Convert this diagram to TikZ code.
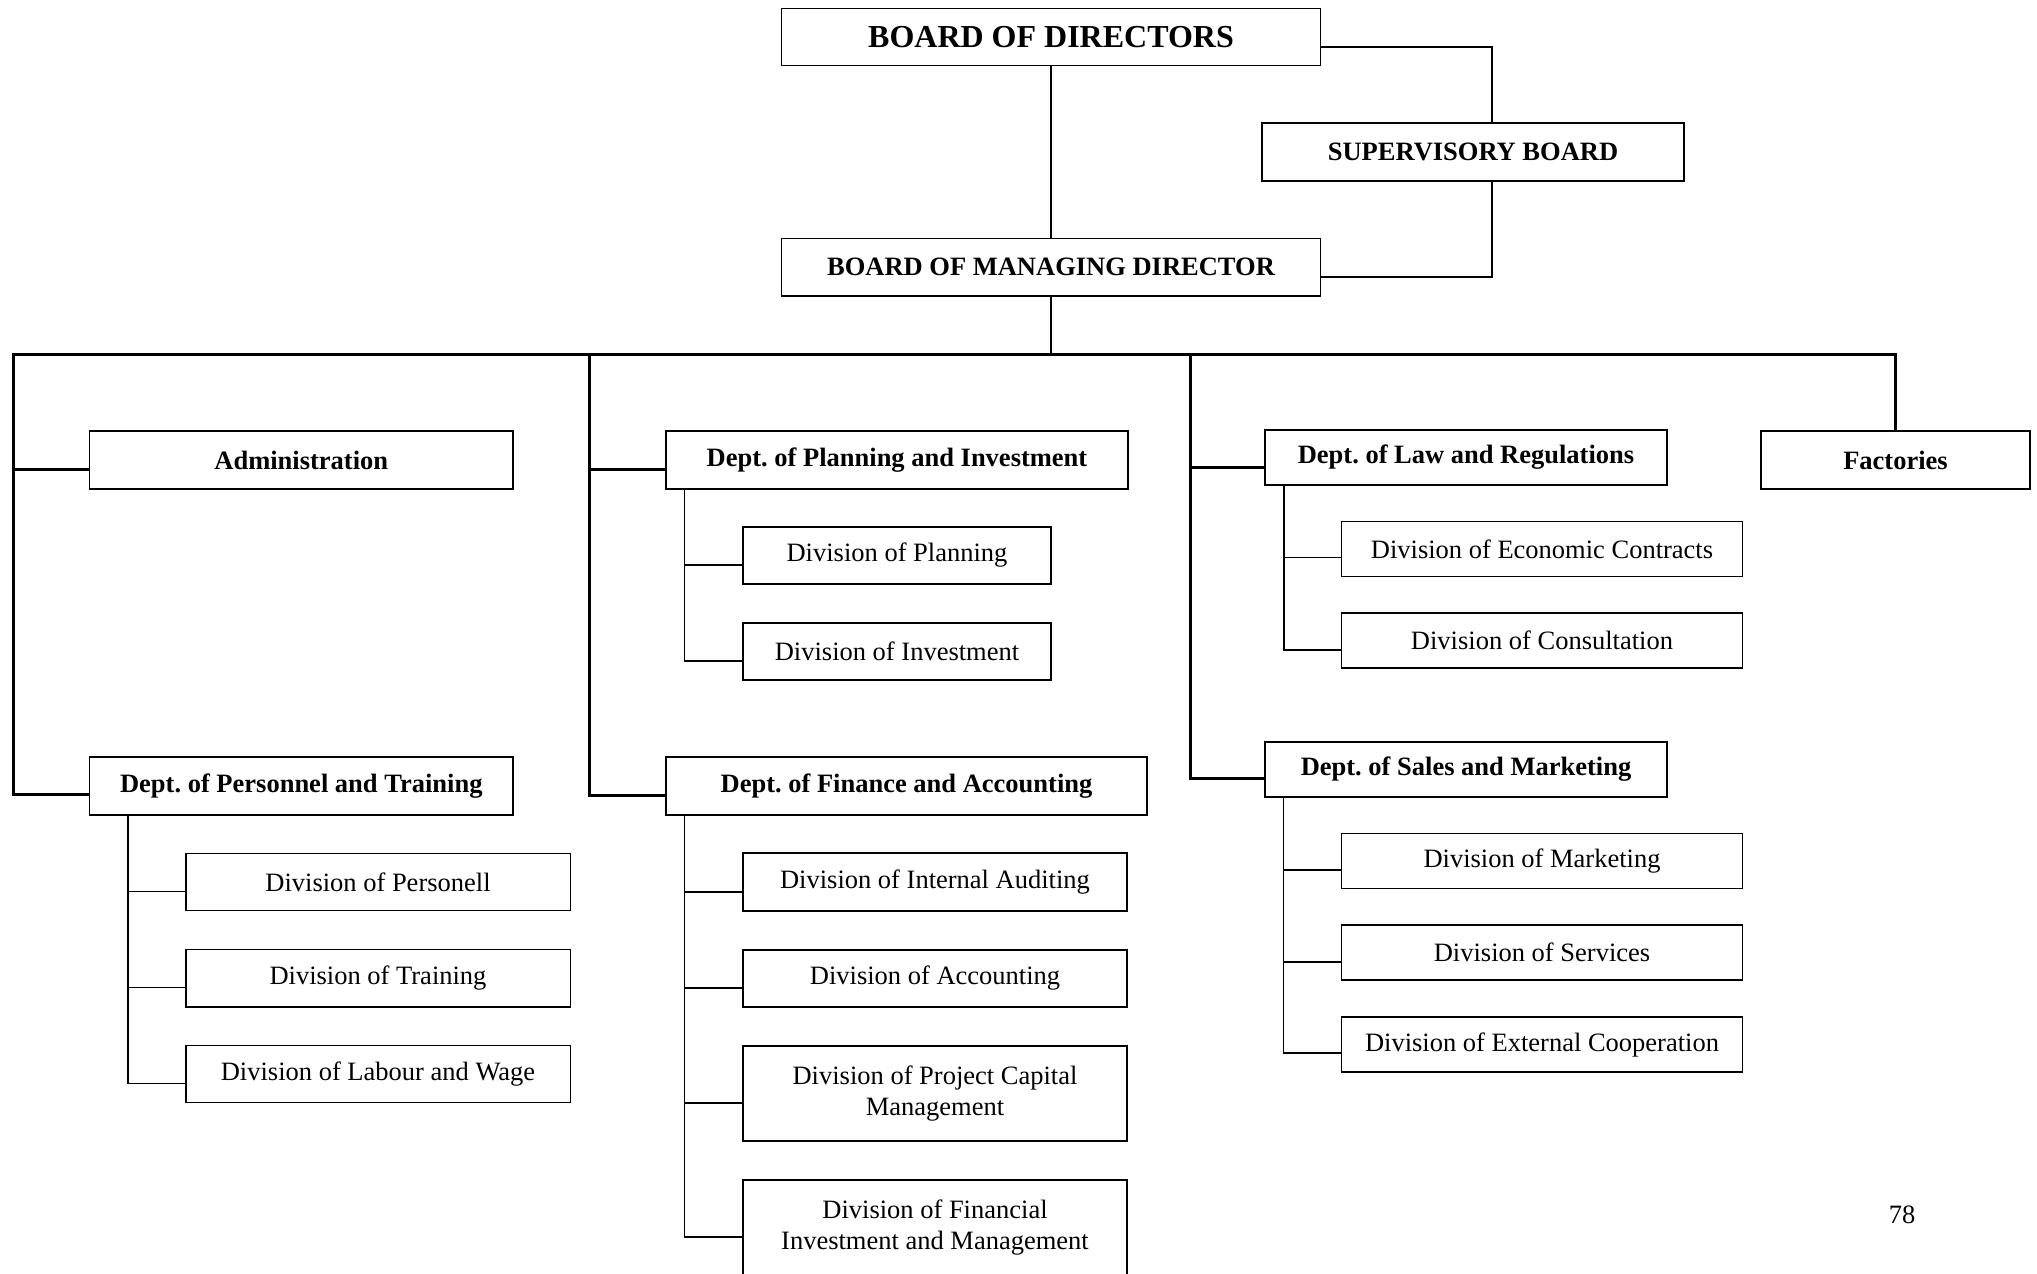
\documentclass[tikz,border=0pt]{standalone}
\usepackage{fontspec}
\setmainfont{Liberation Serif}
\frenchspacing
\begin{document}
\begin{tikzpicture}[x=1pt,y=-1pt,
  box/.style={draw, line width=1.5pt, inner sep=0pt, align=center,
    font=\frenchspacing\fontsize{26.5}{31.8}\selectfont},
  dept/.style={box, font=\frenchspacing\bfseries\fontsize{26.5}{31.8}\selectfont},
  busline/.style={line width=3pt},
  midline/.style={line width=2pt},
  thinline/.style={line width=1.5pt}]
\useasboundingbox (0,0) rectangle (2037,1274);
\clip (0,0) rectangle (2037,1274);
\fill[white] (0,0) rectangle (2037,1274);

% top
\node[dept, font=\bfseries\fontsize{32}{38}\selectfont, minimum width=539pt, minimum height=57.4pt] (bod) at (1051,37) {BOARD OF DIRECTORS};
\node[dept, minimum width=422pt, minimum height=58pt] (sb) at (1473,152) {SUPERVISORY BOARD};
\node[dept, minimum width=539pt, minimum height=57.4pt] (bmd) at (1051,267.3) {BOARD OF MANAGING DIRECTOR};

% departments
\node[dept, minimum width=423.4pt, minimum height=58pt] (admin) at (301.3,460) {Administration};
\node[dept, minimum width=423.4pt, minimum height=58pt] (pers) at (301.3,786) {Dept. of Personnel and Training};
\node[dept, minimum width=462pt, minimum height=58pt] (plan) at (897,460) {Dept. of Planning and Investment};
\node[dept, minimum width=481pt, minimum height=58pt] (fin) at (906.5,786) {Dept. of Finance and Accounting};
\node[dept, minimum width=402pt, minimum height=55pt] (law) at (1466,457.5) {Dept. of Law and Regulations};
\node[dept, minimum width=402pt, minimum height=55pt] (sales) at (1466,769.5) {Dept. of Sales and Marketing};
\node[dept, minimum width=269pt, minimum height=58pt] (fac) at (1895.5,460) {Factories};

% personnel divisions
\node[box, minimum width=384.5pt, minimum height=57.2pt] (dpers) at (378,882) {Division of Personell};
\node[box, minimum width=384.5pt, minimum height=57.5pt] (dtrain) at (378,978) {Division of Training};
\node[box, minimum width=384.5pt, minimum height=57.2pt] (dlab) at (378,1074) {Division of Labour and Wage};

% planning divisions
\node[box, minimum width=308pt, minimum height=57pt] (dplan) at (897,555.5) {Division of Planning};
\node[box, minimum width=308pt, minimum height=57pt] (dinv) at (897,651.5) {Division of Investment};

% finance divisions
\node[box, minimum width=384pt, minimum height=58pt] (daud) at (935,882) {Division of Internal Auditing};
\node[box, minimum width=384pt, minimum height=57pt] (dacc) at (935,978.5) {Division of Accounting};
\node[box, minimum width=384pt, minimum height=95pt] (dproj) at (935,1093.5) {Division of Project Capital\\Management};
\node[box, minimum width=384pt, minimum height=95pt] (dfinv) at (935,1227.5) {Division of Financial\\Investment and Management};

% law divisions
\node[box, minimum width=401pt, minimum height=55pt] (decon) at (1542,549) {Division of Economic Contracts};
\node[box, minimum width=401pt, minimum height=55pt] (dcons) at (1542,640.5) {Division of Consultation};

% sales divisions
\node[box, minimum width=401pt, minimum height=55pt] (dmark) at (1542,861) {Division of Marketing};
\node[box, minimum width=401pt, minimum height=55pt] (dserv) at (1542,952.7) {Division of Services};
\node[box, minimum width=401pt, minimum height=55pt] (dext) at (1542,1044.5) {Division of External Cooperation};

% page number
\node[font=\fontsize{26.5}{31.8}\selectfont, inner sep=0pt] (pg) at (1902,1215) {78};

% top connectors
\draw[midline] (bod.south) -- (bmd.north);
\draw[midline] ([yshift=-9.6pt]bod.east) -| ([xshift=18.8pt]sb.north);
\draw[midline] ([xshift=18.8pt]sb.south) |- ([yshift=-9.3pt]bmd.east);

% bus
\coordinate (busL) at (13,354);
\coordinate (v2) at (589.5,354);
\coordinate (v3) at (1190,354);
\draw[midline] (bmd.south) -- (bmd.south |- busL);

\coordinate (adminIn) at ([yshift=-9pt]admin.west);
\coordinate (persIn) at ([yshift=-8pt]pers.west);
\coordinate (planIn) at ([yshift=-9pt]plan.west);
\coordinate (finIn) at ([yshift=-9pt]fin.west);
\coordinate (lawIn) at ([yshift=-10pt]law.west);
\coordinate (salesIn) at ([yshift=-8.5pt]sales.west);

\draw[busline, line join=miter] (persIn) -| (busL) -- (busL -| fac.north) -- (fac.north);
\draw[busline] (adminIn) -- (adminIn -| busL);
\draw[busline, line join=miter] (v2) |- (finIn);
\draw[busline] (planIn) -- (planIn -| v2);
\draw[busline, line join=miter] (v3) |- (salesIn);
\draw[busline] (lawIn) -- (lawIn -| v3);

% sub trees
\coordinate (persS) at ([xshift=39pt]pers.south west);
\draw[thinline] (persS) |- ([yshift=-9.7pt]dlab.west);
\draw[thinline] ([yshift=-9.7pt]dpers.west) -- ([yshift=-9.7pt]dpers.west -| persS);
\draw[thinline] ([yshift=-9.5pt]dtrain.west) -- ([yshift=-9.5pt]dtrain.west -| persS);

\coordinate (planS) at ([xshift=19pt]plan.south west);
\draw[thinline] (planS) |- ([yshift=-9.5pt]dinv.west);
\draw[thinline] ([yshift=-9.5pt]dplan.west) -- ([yshift=-9.5pt]dplan.west -| planS);

\coordinate (finS) at ([xshift=19.3pt]fin.south west);
\draw[thinline] (finS) |- ([yshift=-9.5pt]dfinv.west);
\draw[thinline] ([yshift=-10pt]daud.west) -- ([yshift=-10pt]daud.west -| finS);
\draw[thinline] ([yshift=-9.5pt]dacc.west) -- ([yshift=-9.5pt]dacc.west -| finS);
\draw[thinline] ([yshift=-9.5pt]dproj.west) -- ([yshift=-9.5pt]dproj.west -| finS);

\coordinate (lawS) at ([xshift=19.5pt]law.south west);
\draw[thinline] (lawS) |- ([yshift=-9.5pt]dcons.west);
\draw[thinline] ([yshift=-8.5pt]decon.west) -- ([yshift=-8.5pt]decon.west -| lawS);

\coordinate (salesS) at ([xshift=19pt]sales.south west);
\draw[thinline] (salesS) |- ([yshift=-8.5pt]dext.west);
\draw[thinline] ([yshift=-9pt]dmark.west) -- ([yshift=-9pt]dmark.west -| salesS);
\draw[thinline] ([yshift=-9.3pt]dserv.west) -- ([yshift=-9.3pt]dserv.west -| salesS);
\end{tikzpicture}
\end{document}
